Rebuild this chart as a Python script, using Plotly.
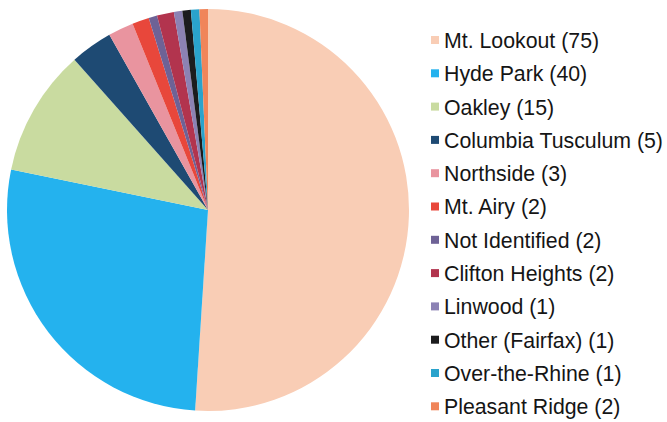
import plotly.graph_objects as go

labels = ["Mt. Lookout", "Hyde Park", "Oakley", "Columbia Tusculum", "Northside",
          "Mt. Airy", "Not Identified", "Clifton Heights", "Linwood", "Other (Fairfax)",
          "Over-the-Rhine", "Pleasant Ridge"]
# counts printed in the legend
legend_counts = [75, 40, 15, 5, 3, 2, 2, 2, 1, 1, 1, 2]
# slice sizes as drawn in the pie
slice_values = [75, 40, 15, 5, 3, 2, 1, 2, 1, 1, 1, 1]
colors = ["#F9CDB5", "#24B2EE", "#C9DBA0", "#1E4A73", "#E9949F", "#E8473B",
          "#6E6296", "#B2344E", "#8C82B4", "#1C1C1E", "#2AA3CC", "#F0855A"]

W, H = 667, 422
fig = go.Figure()
fig.add_trace(go.Pie(
    labels=labels, values=slice_values, sort=False, direction="clockwise", rotation=0,
    marker=dict(colors=colors, line=dict(width=0)),
    textinfo="none", showlegend=False,
    domain=dict(x=[7 / W, 409 / W], y=[(H - 411) / H, (H - 9) / H]),
))

y0, dy = 41, 33.3
for i, (lab, v, c) in enumerate(zip(labels, legend_counts, colors)):
    yc = y0 + dy * i
    fig.add_annotation(
        x=442 / W, y=1 - yc / H, xref="paper", yref="paper",
        xanchor="left", yanchor="middle", showarrow=False,
        text=f"{lab} ({v})",
        font=dict(family="Liberation Sans, Arial, sans-serif", size=21.3, color="#151515"),
    )
    my = yc - 1
    fig.add_shape(type="rect", xref="paper", yref="paper",
                  x0=431 / W, x1=439 / W, y0=1 - (my - 4) / H, y1=1 - (my + 4) / H,
                  fillcolor=c, line=dict(width=0))

fig.update_layout(width=W, height=H, margin=dict(l=0, r=0, t=0, b=0),
                  paper_bgcolor="white", plot_bgcolor="white", showlegend=False)
fig.write_html("out.html", config={"displayModeBar": False},
               post_script="document.body.style.margin='0';document.body.style.overflow='hidden';")
